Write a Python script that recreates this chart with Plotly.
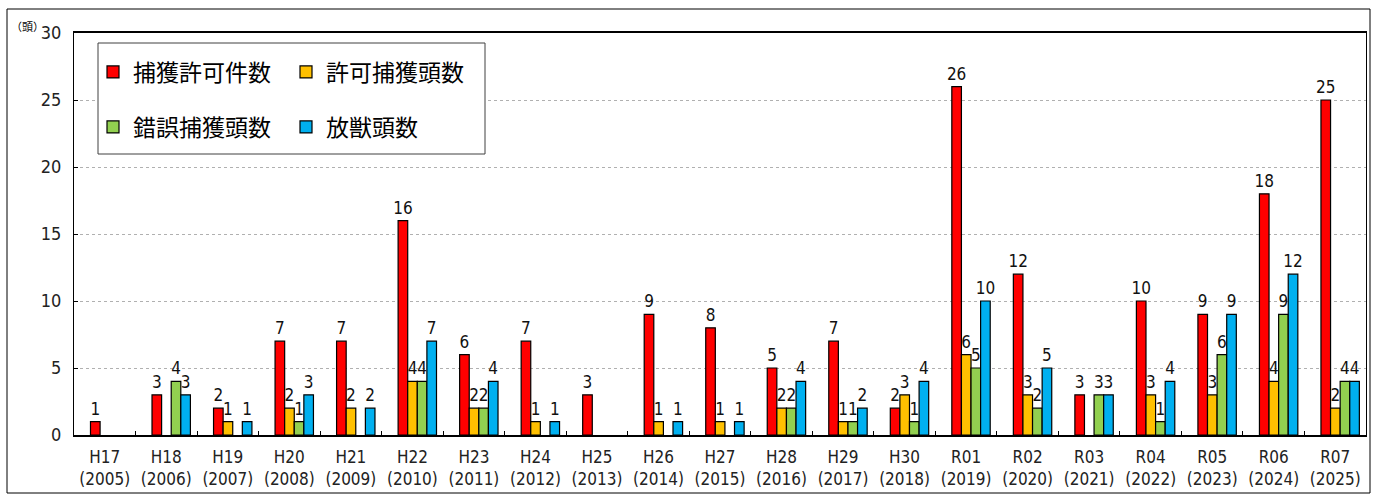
import plotly.graph_objects as go

# Fiscal-year categories (Japanese era + Western year)
eras = ["H17", "H18", "H19", "H20", "H21", "H22", "H23", "H24", "H25", "H26", "H27",
        "H28", "H29", "H30", "R01", "R02", "R03", "R04", "R05", "R06", "R07"]
years = ["2005", "2006", "2007", "2008", "2009", "2010", "2011", "2012", "2013", "2014", "2015",
         "2016", "2017", "2018", "2019", "2020", "2021", "2022", "2023", "2024", "2025"]

# Series values (None = no bar)
permits = [1, 3, 2, 7, 7, 16, 6, 7, 3, 9, 8, 5, 7, 2, 26, 12, 3, 10, 9, 18, 25]
permitted_catch = [None, None, 1, 2, 2, 4, 2, 1, None, 1, 1, 2, 1, 3, 6, 3, None, 3, 3, 4, 2]
accidental_catch = [None, 4, None, 1, None, 4, 2, None, None, None, None, 2, 1, 1, 5, 2, 3, 1, 6, 9, 4]
released = [None, 3, 1, 3, 2, 7, 4, 1, None, 1, 1, 4, 2, 4, 10, 5, 3, 4, 9, 12, 4]

series_names = ["捕獲許可件数", "許可捕獲頭数", "錯誤捕獲頭数", "放獣頭数"]
series_colors = ["#FF0000", "#FFC000", "#92D050", "#00B0F0"]

categories = [f"{e}<br>({y})" for e, y in zip(eras, years)]

W, H = 1374, 495
ML, MR, MT, MB = 74, 8, 33, 60
PW, PH = W - ML - MR, H - MT - MB


def px_x(p):
    return (p - ML) / PW


def px_y(p):
    return (H - MB - p) / PH


FONT = "DejaVu Sans Condensed, Noto Sans CJK JP, sans-serif"
CJK = "Noto Sans CJK JP, sans-serif"

bar_w = 0.156
offsets = [-0.232, -0.076, 0.080, 0.236]
legend_ids = ["legend", "legend", "legend2", "legend2"]

fig = go.Figure()
for vals, name, color, off, lg in zip(
        [permits, permitted_catch, accidental_catch, released],
        series_names, series_colors, offsets, legend_ids):
    fig.add_trace(go.Bar(
        x=categories, y=vals, name=name,
        marker=dict(color=color, line=dict(color="black", width=1.2)),
        width=bar_w, offset=off,
        text=[("" if v is None else str(v)) for v in vals],
        textposition="outside", constraintext="none", cliponaxis=False,
        textfont=dict(family=FONT, size=17, color="#111"),
        legend=lg,
    ))

fig.update_layout(
    width=W, height=H,
    margin=dict(l=ML, r=MR, t=MT, b=MB, autoexpand=False),
    paper_bgcolor="white", plot_bgcolor="white",
    barmode="overlay",
    font=dict(family=FONT, color="black"),
    xaxis=dict(
        type="category", range=[-0.5, 20.5], automargin=False, tickangle=0,
        showline=True, linecolor="black", linewidth=1.5, mirror=True,
        ticks="inside", ticklen=4, tickcolor="black", tickson="boundaries",
        tickfont=dict(family=FONT, size=17, color="#222"),
        ticklabelstandoff=6,
        showgrid=False,
    ),
    yaxis=dict(
        range=[0, 30], dtick=5, tick0=0, automargin=False,
        showline=True, linecolor="black", linewidth=1, mirror=True,
        ticks="inside", ticklen=4, tickcolor="black",
        tickfont=dict(family=FONT, size=18, color="#222"),
        ticklabelstandoff=8,
        showgrid=True, gridcolor="#b0b0b0", gridwidth=1, griddash="dot",
        zeroline=False,
    ),
    legend=dict(
        orientation="h", x=px_x(93), y=px_y(72), xanchor="left", yanchor="middle",
        bgcolor="rgba(0,0,0,0)", borderwidth=0,
        font=dict(family=CJK, size=23, color="black"),
        entrywidth=148, entrywidthmode="pixels", traceorder="normal",
    ),
    legend2=dict(
        orientation="h", x=px_x(93), y=px_y(127), xanchor="left", yanchor="middle",
        bgcolor="rgba(0,0,0,0)", borderwidth=0,
        font=dict(family=CJK, size=23, color="black"),
        entrywidth=148, entrywidthmode="pixels", traceorder="normal",
    ),
    shapes=[
        # legend frame
        dict(type="rect", xref="paper", yref="paper",
             x0=px_x(98), x1=px_x(485), y0=px_y(154), y1=px_y(43),
             line=dict(color="#404040", width=1), fillcolor="white", layer="above"),
        # outer chart frame
        dict(type="rect", xref="paper", yref="paper",
             x0=px_x(7), x1=px_x(1370), y0=px_y(493), y1=px_y(9),
             line=dict(color="black", width=1), fillcolor="rgba(0,0,0,0)", layer="above"),
    ],
    annotations=[
        dict(text="（頭）", xref="paper", yref="paper", x=px_x(46), y=px_y(26),
             xanchor="right", yanchor="middle", showarrow=False,
             font=dict(family=CJK, size=11, color="black")),
    ],
)

fig.write_html("out.html")
